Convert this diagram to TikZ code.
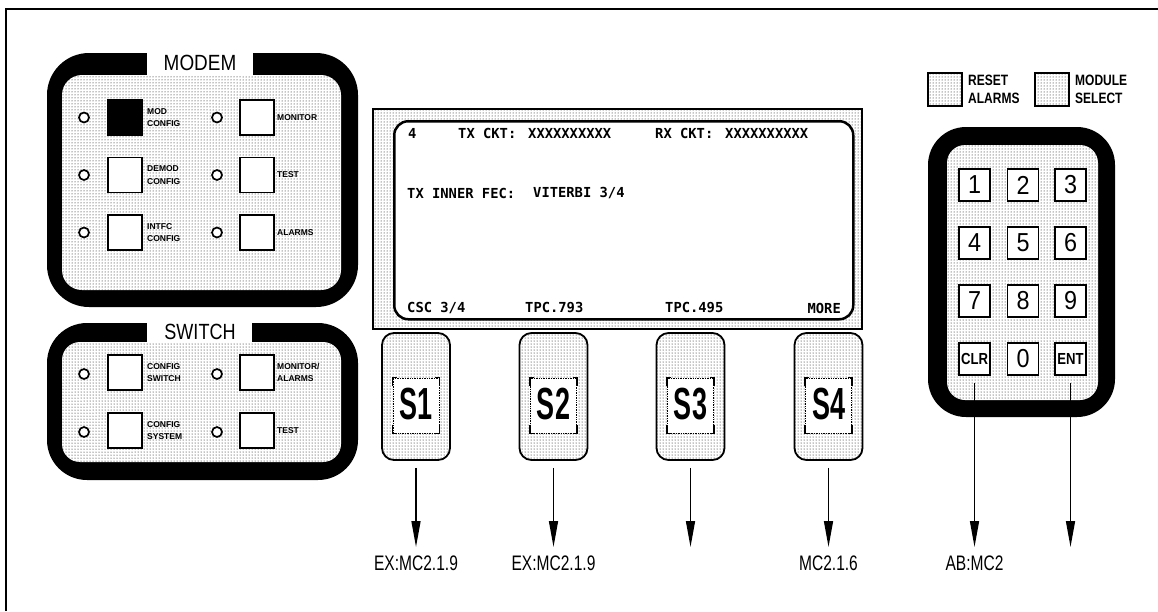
\documentclass[tikz,border=0pt]{standalone}
\usepackage{fontspec}
\usepackage{graphicx}
\setmainfont{Liberation Sans}
\newfontfamily\lcdfont{DejaVu Sans Mono}
\usetikzlibrary{patterns,arrows.meta}
\newcommand\cond[2]{\scalebox{#1}[1]{#2}}
\tikzset{
  dotarea/.style={preaction={fill=white}, pattern=dots, pattern color=black},
  btn/.style={draw, line width=1.8pt, fill=white, minimum width=34pt, minimum height=35pt, inner sep=0pt},
  led/.style={circle, draw, line width=1.7pt, fill=white, minimum size=10pt, inner sep=0pt},
  lbl/.style={anchor=west, align=left, inner sep=0pt, font=\bfseries\fontsize{8.5}{12.5}\selectfont},
  ptitle/.style={inner sep=0pt, font=\fontsize{22}{22}\selectfont},
  softkey/.style={draw, line width=1.8pt, rounded corners=12pt, dotarea, minimum width=68pt, minimum height=127pt, inner sep=0pt},
  skwin/.style={fill=white, draw, densely dotted, line width=0.7pt, minimum width=46pt, minimum height=55pt, inner sep=0pt},
  bracket/.style={line width=1.6pt},
  sklbl/.style={inner sep=0pt, font=\bfseries\fontsize{45}{45}\selectfont},
  outlbl/.style={anchor=north, inner sep=0pt, text height=15pt, font=\fontsize{21}{21}\selectfont},
  arr/.style={line width=1.5pt, -{Triangle[length=26pt,width=9pt]}, shorten <=7pt},
  key/.style={draw, line width=1.8pt, fill=white, minimum width=31pt, minimum height=32pt, inner sep=0pt, font=\fontsize{26}{26}\selectfont},
  kbold/.style={font=\bfseries\fontsize{16}{16}\selectfont},
  lcd/.style={anchor=west, inner sep=0pt, font=\lcdfont\bfseries\fontsize{13.8}{13.8}\selectfont},
  sbox/.style={draw, line width=1.5pt, dotarea, minimum width=34pt, minimum height=33pt, inner sep=0pt},
  toplbl/.style={anchor=west, align=left, inner sep=0pt, font=\bfseries\fontsize{15}{18}\selectfont},
}
\begin{document}
\begin{tikzpicture}[x=1pt,y=-1pt]
\useasboundingbox (0,0) rectangle (1158,611);
% frame
\draw[line width=2.5pt] (6,611) -- (6,9) -- (1158,9);

% ---------------- MODEM panel
\fill[rounded corners=42pt] (47,53) rectangle (358,307);
\path[dotarea, rounded corners=20pt] (62,75) rectangle (341,290);
\fill[white] (147,52) rectangle (253,75);
\node[ptitle] (modemT) at (200,63) {\cond{0.86}{MODEM}};

\node[led] (mled1) at (84,117.5) {};
\node[btn, fill=black] (mb1) at (125,117.5) {};
\node[lbl] (ml1) at (147,117.5) {MOD\\CONFIG};
\node[led] (mled2) at (84,175) {};
\node[btn] (mb2) at (125,175) {};
\node[lbl] (ml2) at (147,175) {DEMOD\\CONFIG};
\node[led] (mled3) at (84,232.5) {};
\node[btn] (mb3) at (125,232.5) {};
\node[lbl] (ml3) at (147,232.5) {INTFC\\CONFIG};
\node[led] (mled4) at (217,117.5) {};
\node[btn] (mb4) at (257,117.5) {};
\node[lbl] (ml4) at (277,117.5) {MONITOR};
\node[led] (mled5) at (217,175) {};
\node[btn] (mb5) at (257,175) {};
\node[lbl] (ml5) at (277,175) {TEST};
\node[led] (mled6) at (217,232.5) {};
\node[btn] (mb6) at (257,232.5) {};
\node[lbl] (ml6) at (277,232.5) {ALARMS};

% ---------------- SWITCH panel
\fill[rounded corners=40pt] (47,323) rectangle (358,480);
\path[dotarea, rounded corners=18pt] (62,342) rectangle (341,462);
\fill[white] (147,322) rectangle (252,342);
\node[ptitle] (switchT) at (200,332) {\cond{0.82}{SWITCH}};

\node[led] (sled1) at (84,374) {};
\node[btn] (sb1) at (125,372.5) {};
\node[lbl] (sl1) at (147,372.5) {CONFIG\\SWITCH};
\node[led] (sled2) at (84,432) {};
\node[btn] (sb2) at (125,430.5) {};
\node[lbl] (sl2) at (147,430.5) {CONFIG\\SYSTEM};
\node[led] (sled3) at (217,374) {};
\node[btn] (sb3) at (257,372.5) {};
\node[lbl] (sl3) at (277,372.5) {MONITOR/\\ALARMS};
\node[led] (sled4) at (217,432) {};
\node[btn] (sb4) at (257,430.5) {};
\node[lbl] (sl4) at (277,430.5) {TEST};

% ---------------- display
\node[draw, line width=1.5pt, dotarea, minimum width=489pt, minimum height=220pt, anchor=north west, inner sep=0pt] (disp) at (372,108) {};
\node[draw, line width=2.5pt, fill=white, rounded corners=14pt, minimum width=459pt, minimum height=198pt, anchor=north west, inner sep=0pt] (scr) at (393,120) {};
\node[lcd] (d1) at (408,133) {4};
\node[lcd] (d2) at (458,133) {TX CKT:};
\node[lcd] (d3) at (528,133) {XXXXXXXXXX};
\node[lcd] (d4) at (655,133) {RX CKT:};
\node[lcd] (d5) at (725,133) {XXXXXXXXXX};
\node[lcd] (d6) at (407,193) {TX INNER FEC:};
\node[lcd] (d7) at (533,193) {VITERBI 3/4};
\node[lcd] (d8) at (407,308) {CSC 3/4};
\node[lcd] (d9) at (525,308) {TPC.793};
\node[lcd] (d10) at (665,308) {TPC.495};
\node[lcd, anchor=east] (d11) at (841,308) {MORE};

% ---------------- soft keys
\foreach \i/\x in {1/416,2/553.5,3/690.5,4/828.5}{
  \node[softkey] (s\i) at (\x,396.5) {};
  \node[skwin] (w\i) at (\x,405.5) {};
  \draw[bracket] ([xshift=4pt]w\i.north west) -- (w\i.north west) -- ([yshift=-8pt]w\i.north west);
  \draw[bracket] ([xshift=-4pt]w\i.north east) -- (w\i.north east) -- ([yshift=-8pt]w\i.north east);
  \draw[bracket] ([xshift=4pt]w\i.south west) -- (w\i.south west) -- ([yshift=8pt]w\i.south west);
  \draw[bracket] ([xshift=-4pt]w\i.south east) -- (w\i.south east) -- ([yshift=8pt]w\i.south east);
  \node[sklbl] (t\i) at (\x,404) {\cond{0.6}{S\i}};
}

\node[outlbl] (l1) at (416,555) {\cond{0.74}{EX:MC2.1.9}};
\node[outlbl] (l2) at (553.5,555) {\cond{0.74}{EX:MC2.1.9}};
\coordinate (e3) at (690.5,547);
\node[outlbl] (l4) at (828.5,555) {\cond{0.74}{MC2.1.6}};
\draw[arr, shorten >=8pt] (s1.south) -- (l1.north);
\draw[arr, shorten >=8pt] (s2.south) -- (l2.north);
\draw[arr] (s3.south) -- (e3);
\draw[arr, shorten >=8pt] (s4.south) -- (l4.north);

% ---------------- reset / module select
\node[sbox] (rst) at (945,89.5) {};
\node[toplbl] (rstT) at (968,89) {\cond{0.8}{RESET}\\\cond{0.8}{ALARMS}};
\node[sbox] (mod) at (1052,89.5) {};
\node[toplbl] (modT) at (1075,89) {\cond{0.8}{MODULE}\\\cond{0.8}{SELECT}};

% ---------------- keypad
\fill[rounded corners=38pt] (928,127) rectangle (1115,417);
\path[dotarea, rounded corners=18pt] (947,145) rectangle (1098,400);
\node[key] (k1) at (974.5,185) {\cond{0.9}{1}};
\node[key] (k2) at (1023,185) {\cond{0.9}{2}};
\node[key] (k3) at (1070.5,185) {\cond{0.9}{3}};
\node[key] (k4) at (974.5,243) {\cond{0.9}{4}};
\node[key] (k5) at (1023,243) {\cond{0.9}{5}};
\node[key] (k6) at (1070.5,243) {\cond{0.9}{6}};
\node[key] (k7) at (974.5,301) {\cond{0.9}{7}};
\node[key] (k8) at (1023,301) {\cond{0.9}{8}};
\node[key] (k9) at (1070.5,301) {\cond{0.9}{9}};
\node[key, kbold] (kclr) at (974.5,359) {\cond{0.82}{CLR}};
\node[key] (k0) at (1023,359) {\cond{0.9}{0}};
\node[key, kbold] (kent) at (1070.5,359) {\cond{0.82}{ENT}};

\node[outlbl] (l5) at (974.5,555) {\cond{0.74}{AB:MC2}};
\coordinate (e6) at (1070.5,547);
\draw[arr, shorten >=8pt] (kclr.south) -- (l5.north);
\draw[arr] (kent.south) -- (e6);
\end{tikzpicture}
\end{document}
